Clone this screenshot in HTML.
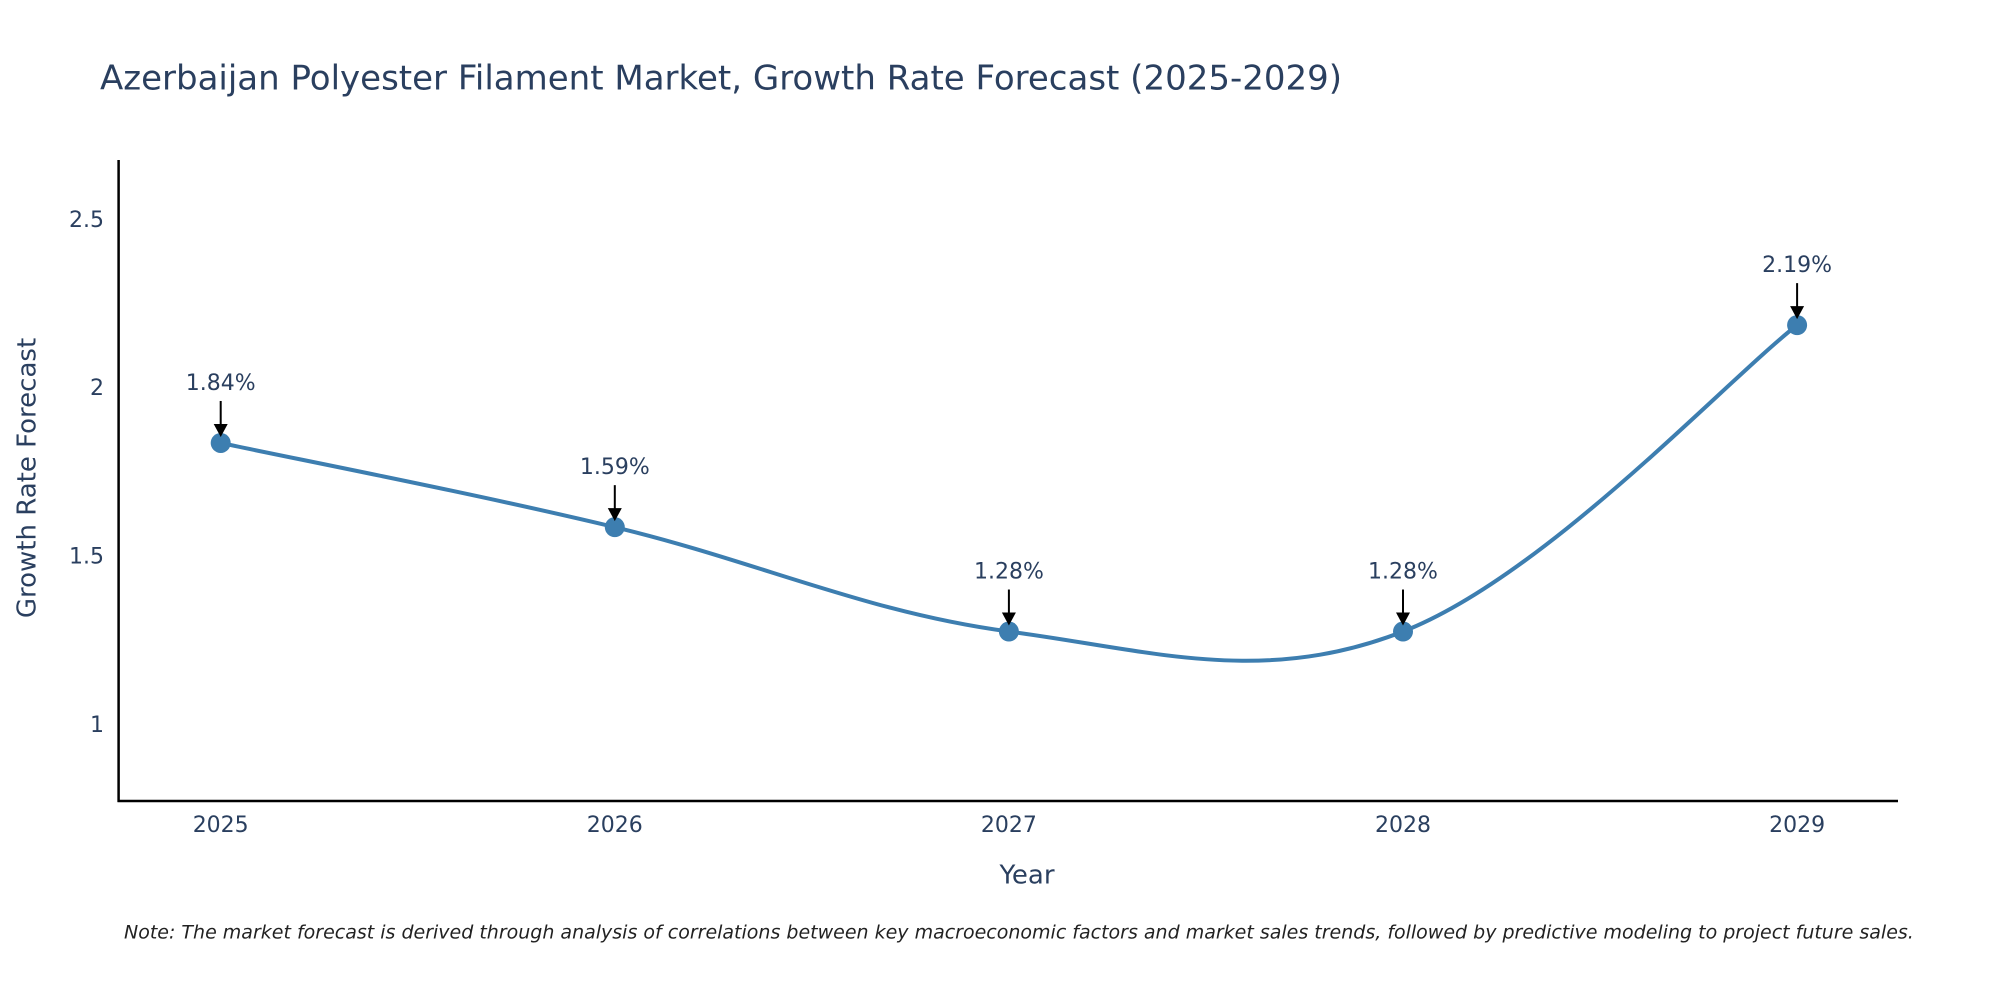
<!DOCTYPE html>
<html><head><meta charset="utf-8"><style>
body{margin:0;background:#fff;}
svg{display:block;font-family:"DejaVu Sans","Liberation Sans",sans-serif;}
</style></head><body>
<svg id="chart" width="2000" height="1000" viewBox="0 0 2000 1000">
<text x="100" y="80" font-size="34" fill="#2a3f5f" dominant-baseline="middle">Azerbaijan Polyester Filament Market, Growth Rate Forecast (2025-2029)</text>
<g id="yticks"></g>
<g id="xticks"></g>
<line x1="118.6" y1="160" x2="118.6" y2="802" stroke="#000" stroke-width="2.5"/>
<line x1="117.5" y1="801" x2="1898" y2="801" stroke="#000" stroke-width="2.5"/>
<path id="series-line" fill="none" stroke="#3d7eb0" stroke-width="4"/>
<g id="points"></g>
<g id="annots"></g>
<text x="28" y="478" font-size="26" fill="#2a3f5f" text-anchor="middle" dominant-baseline="middle" transform="rotate(-90 28 478)">Growth Rate Forecast</text>
<text x="1027" y="876" font-size="26" fill="#2a3f5f" text-anchor="middle" dominant-baseline="middle">Year</text>
<text x="124" y="933" font-size="19" font-style="italic" fill="#222" dominant-baseline="middle">Note: The market forecast is derived through analysis of correlations between key macroeconomic factors and market sales trends, followed by predictive modeling to project future sales.</text>
</svg>
<script>
const years = [2025, 2026, 2027, 2028, 2029];
const rates = [1.84, 1.59, 1.28, 1.28, 2.19];
const yTickValues = [1, 1.5, 2, 2.5];
const yTickLabels = ["1", "1.5", "2", "2.5"];

const NS = "http://www.w3.org/2000/svg";
function xScale(v){ return 220.7 + (v - 2025) * 394.1; }
function yScale(v){ return 725.8 - (v - 1) * 336.7; }
function mk(tag, attrs, parent){ const e=document.createElementNS(NS,tag); for(const k in attrs) e.setAttribute(k,attrs[k]); parent.appendChild(e); return e; }

const yt=document.getElementById('yticks');
yTickValues.forEach((v,i)=>{
  const t=mk('text',{x:104,y:yScale(v),'font-size':22,fill:'#2a3f5f','text-anchor':'end','dominant-baseline':'middle'},yt);
  
  
  t.textContent=yTickLabels[i];
});
const xt=document.getElementById('xticks');
years.forEach(v=>{
  const t=mk('text',{x:xScale(v),y:826,'font-size':22,fill:'#2a3f5f','text-anchor':'middle','dominant-baseline':'middle'},xt);
  
  
  t.textContent=String(v);
});

const pts=years.map((y,i)=>[xScale(y),yScale(rates[i])]);
let d=`M${pts[0][0]},${pts[0][1]}`;
const s=0.18;
for(let i=0;i<pts.length-1;i++){
  const p0=pts[Math.max(i-1,0)],p1=pts[i],p2=pts[i+1],p3=pts[Math.min(i+2,pts.length-1)];
  const c1=[p1[0]+(p2[0]-p0[0])*s,p1[1]+(p2[1]-p0[1])*s];
  const c2=[p2[0]-(p3[0]-p1[0])*s,p2[1]-(p3[1]-p1[1])*s];
  d+=` C${c1[0]},${c1[1]} ${c2[0]},${c2[1]} ${p2[0]},${p2[1]}`;
}
document.getElementById('series-line').setAttribute('d',d);

const pg=document.getElementById('points'), ag=document.getElementById('annots');
pts.forEach((p,i)=>{
  const c=mk('circle',{cx:p[0],cy:p[1],r:10,fill:'#3d7eb0'},pg);
  
  
  const l=mk('line',{x1:p[0],y1:p[1]-42,x2:p[0],y2:p[1]-16,stroke:'#000','stroke-width':2},ag);
  
  
  const h=mk('polygon',{points:`${p[0]-7},${p[1]-19} ${p[0]+7},${p[1]-19} ${p[0]},${p[1]-6}`,fill:'#000'},ag);
  
  
  const t=mk('text',{x:p[0],y:p[1]-59,'font-size':22,fill:'#2a3f5f','text-anchor':'middle','dominant-baseline':'middle'},ag);
  
  
  t.textContent=rates[i].toFixed(2)+'%';
});
</script>
</body></html>
